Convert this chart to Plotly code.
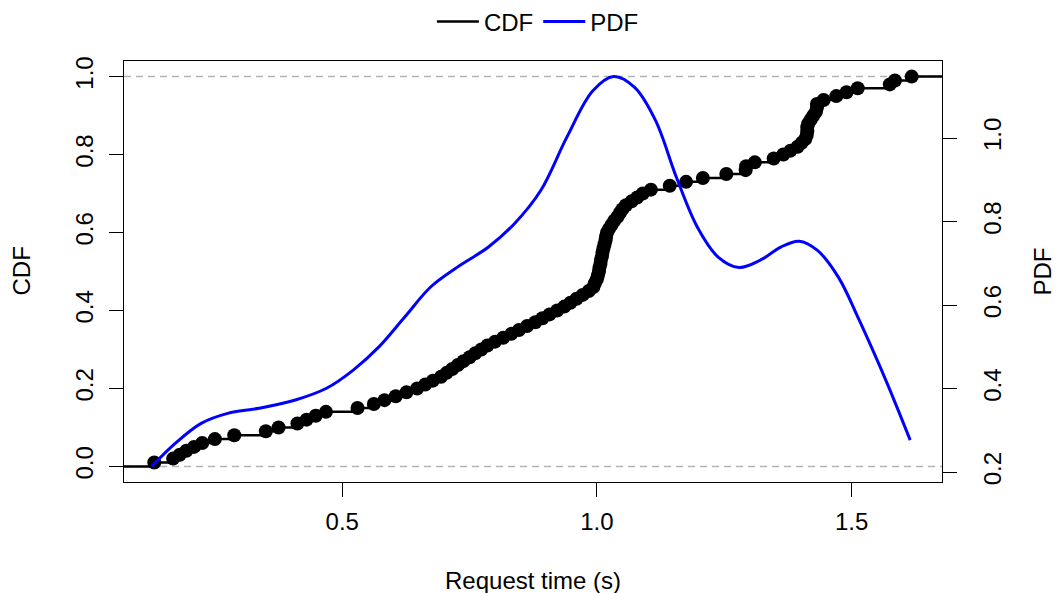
import plotly.graph_objects as go

# Sorted request times (s)
request_time = [
    0.131, 0.168, 0.181, 0.194, 0.209, 0.225, 0.250, 0.288, 0.350, 0.375,
    0.412, 0.430, 0.448, 0.468, 0.530, 0.562, 0.583, 0.605, 0.626, 0.647,
    0.663, 0.678, 0.694, 0.705, 0.716, 0.727, 0.738, 0.750, 0.761, 0.773,
    0.785, 0.800, 0.816, 0.832, 0.847, 0.863, 0.879, 0.893, 0.907, 0.922,
    0.936, 0.948, 0.960, 0.972, 0.984, 0.993, 0.996, 1.000, 1.002, 1.004,
    1.005, 1.007, 1.008, 1.010, 1.011, 1.013, 1.015, 1.017, 1.018, 1.020,
    1.024, 1.029, 1.034, 1.040, 1.045, 1.050, 1.057, 1.068, 1.079, 1.090,
    1.106, 1.143, 1.175, 1.208, 1.254, 1.292, 1.293, 1.310, 1.347, 1.366,
    1.380, 1.394, 1.402, 1.409, 1.412, 1.413, 1.413, 1.415, 1.420, 1.425,
    1.430, 1.432, 1.432, 1.445, 1.470, 1.490, 1.512, 1.575, 1.585, 1.618,
]

# Density curve
pdf_x = [0.126, 0.172, 0.223, 0.275, 0.336, 0.408, 0.469, 0.521, 0.572, 0.623,
         0.674, 0.726, 0.787, 0.838, 0.890, 0.941, 0.992, 1.033, 1.074, 1.115,
         1.156, 1.197, 1.238, 1.279, 1.320, 1.361, 1.397, 1.433, 1.474, 1.515,
         1.556, 1.586, 1.615]
pdf_y = [0.214, 0.269, 0.317, 0.341, 0.353, 0.373, 0.401, 0.444, 0.500, 0.572,
         0.644, 0.691, 0.739, 0.795, 0.875, 1.002, 1.113, 1.147, 1.121, 1.042,
         0.906, 0.787, 0.715, 0.690, 0.707, 0.739, 0.753, 0.731, 0.667, 0.564,
         0.452, 0.365, 0.277]

left_ticks = [0.0, 0.2, 0.4, 0.6, 0.8, 1.0]
right_ticks = [0.2, 0.4, 0.6, 0.8, 1.0]
x_ticks = [0.5, 1.0, 1.5]

FONT = "Liberation Sans, Arial, Helvetica, sans-serif"
FS = 24

n = len(request_time)
cdf = [(i + 1) / n for i in range(n)]

def ext(lo, hi):
    d = (hi - lo) * 0.04
    return [lo - d, hi + d]

xr = ext(min(request_time), max(request_time))
yr = ext(0.0, 1.0)
y2r = ext(min(pdf_y), max(pdf_y))

step_x = [xr[0]] + request_time + [xr[1]]
step_y = [0.0] + cdf + [1.0]

fig = go.Figure()
fig.add_trace(go.Scatter(x=step_x, y=step_y, mode="lines", line_shape="hv",
                         line=dict(color="black", width=2.5), name="CDF"))
fig.add_trace(go.Scatter(x=request_time, y=cdf, mode="markers",
                         marker=dict(color="black", size=14), showlegend=False))
fig.add_trace(go.Scatter(x=pdf_x, y=pdf_y, mode="lines", line_shape="spline",
                         line=dict(color="blue", width=3), name="PDF", yaxis="y2"))

for yv in [0.0, 1.0]:
    fig.add_shape(type="line", xref="paper", x0=0, x1=1, yref="y", y0=yv, y1=yv,
                  line=dict(color="#b3b3b3", width=1.5, dash="7px,5px"), layer="below")

axis_common = dict(showline=True, linecolor="black", linewidth=1.2, ticks="outside",
                   ticklen=14, tickwidth=1.2, tickcolor="black", showgrid=False,
                   zeroline=False, automargin=False,
                   tickfont=dict(family=FONT, size=FS, color="black"))

fig.update_layout(
    width=1056, height=593,
    margin=dict(l=124, r=114, t=61, b=111, autoexpand=False),
    plot_bgcolor="white", paper_bgcolor="white",
    font=dict(family=FONT, size=FS, color="black"),
    xaxis=dict(range=xr, tickvals=x_ticks, ticktext=["0.5", "1.0", "1.5"],
               mirror=True, ticklabelstandoff=4, **axis_common),
    yaxis=dict(range=yr, tickvals=left_ticks,
               ticktext=[f"{v:.1f}" for v in left_ticks], tickangle=-90,
               ticklabelstandoff=6, **axis_common),
    yaxis2=dict(range=y2r, overlaying="y", side="right", tickvals=right_ticks,
                ticktext=[f"{v:.1f}" for v in right_ticks], tickangle=-90,
                ticklabelstandoff=15, **axis_common),
    legend=dict(orientation="h", x=0.506, xanchor="center", xref="paper",
                y=1 - 22 / 593, yanchor="middle", yref="container",
                itemwidth=42, font=dict(family=FONT, size=FS),
                bgcolor="rgba(0,0,0,0)"),
    showlegend=True,
    annotations=[
        dict(text="Request time (s)", xref="paper", yref="paper", x=0.5, y=0,
             xanchor="center", yanchor="middle", yshift=-98, showarrow=False,
             font=dict(family=FONT, size=FS)),
        dict(text="CDF", xref="paper", yref="paper", x=0, y=0.5, xshift=-103,
             xanchor="center", yanchor="middle", textangle=-90, showarrow=False,
             font=dict(family=FONT, size=FS)),
        dict(text="PDF", xref="paper", yref="paper", x=1, y=0.5, xshift=100,
             xanchor="center", yanchor="middle", textangle=-90, showarrow=False,
             font=dict(family=FONT, size=FS)),
    ],
)

fig.write_html("out.html", config={"displayModeBar": False},
               post_script="document.body.style.margin='0px';")
